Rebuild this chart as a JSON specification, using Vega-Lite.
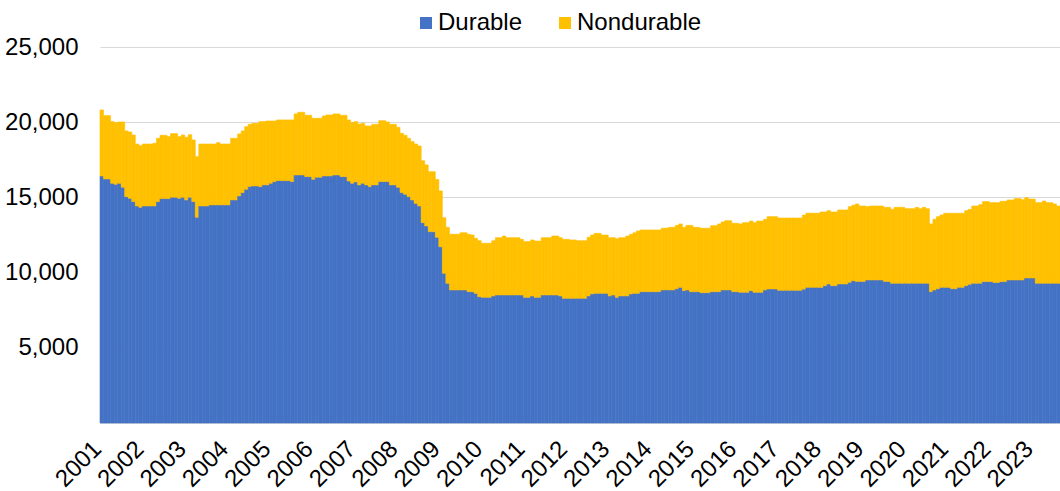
{
"$schema": "https://vega.github.io/schema/vega-lite/v6.json",
"width": 960, "height": 376,
"autosize": "none",
"padding": {"left": 100, "top": 47, "right": 0, "bottom": 68},
"background": "white",
"data": {"values": [
{"m":"2001-01","Durable":16425,"Nondurable":4390},
{"m":"2001-02","Durable":16225,"Nondurable":4215},
{"m":"2001-03","Durable":16225,"Nondurable":4215},
{"m":"2001-04","Durable":15940,"Nondurable":4100},
{"m":"2001-05","Durable":15870,"Nondurable":4100},
{"m":"2001-06","Durable":15940,"Nondurable":4075},
{"m":"2001-07","Durable":15675,"Nondurable":4340},
{"m":"2001-08","Durable":15050,"Nondurable":4370},
{"m":"2001-09","Durable":14940,"Nondurable":4410},
{"m":"2001-10","Durable":14720,"Nondurable":4430},
{"m":"2001-11","Durable":14430,"Nondurable":4120},
{"m":"2001-12","Durable":14340,"Nondurable":4100},
{"m":"2002-01","Durable":14430,"Nondurable":4120},
{"m":"2002-02","Durable":14430,"Nondurable":4120},
{"m":"2002-03","Durable":14430,"Nondurable":4120},
{"m":"2002-04","Durable":14430,"Nondurable":4170},
{"m":"2002-05","Durable":14720,"Nondurable":4210},
{"m":"2002-06","Durable":14920,"Nondurable":4210},
{"m":"2002-07","Durable":14920,"Nondurable":4210},
{"m":"2002-08","Durable":14920,"Nondurable":4120},
{"m":"2002-09","Durable":15010,"Nondurable":4230},
{"m":"2002-10","Durable":15010,"Nondurable":4230},
{"m":"2002-11","Durable":14940,"Nondurable":4100},
{"m":"2002-12","Durable":15010,"Nondurable":4140},
{"m":"2003-01","Durable":14830,"Nondurable":4170},
{"m":"2003-02","Durable":15010,"Nondurable":4160},
{"m":"2003-03","Durable":14720,"Nondurable":4100},
{"m":"2003-04","Durable":13680,"Nondurable":4030},
{"m":"2003-05","Durable":14430,"Nondurable":4120},
{"m":"2003-06","Durable":14430,"Nondurable":4120},
{"m":"2003-07","Durable":14430,"Nondurable":4120},
{"m":"2003-08","Durable":14500,"Nondurable":4050},
{"m":"2003-09","Durable":14500,"Nondurable":4050},
{"m":"2003-10","Durable":14500,"Nondurable":4140},
{"m":"2003-11","Durable":14500,"Nondurable":4050},
{"m":"2003-12","Durable":14500,"Nondurable":4050},
{"m":"2004-01","Durable":14500,"Nondurable":4050},
{"m":"2004-02","Durable":14830,"Nondurable":4100},
{"m":"2004-03","Durable":14830,"Nondurable":4100},
{"m":"2004-04","Durable":15100,"Nondurable":4120},
{"m":"2004-05","Durable":15320,"Nondurable":4100},
{"m":"2004-06","Durable":15540,"Nondurable":4160},
{"m":"2004-07","Durable":15720,"Nondurable":4140},
{"m":"2004-08","Durable":15760,"Nondurable":4170},
{"m":"2004-09","Durable":15760,"Nondurable":4170},
{"m":"2004-10","Durable":15715,"Nondurable":4325},
{"m":"2004-11","Durable":15830,"Nondurable":4210},
{"m":"2004-12","Durable":15830,"Nondurable":4250},
{"m":"2005-01","Durable":15940,"Nondurable":4140},
{"m":"2005-02","Durable":16050,"Nondurable":4030},
{"m":"2005-03","Durable":16115,"Nondurable":4035},
{"m":"2005-04","Durable":16115,"Nondurable":4035},
{"m":"2005-05","Durable":16115,"Nondurable":4035},
{"m":"2005-06","Durable":16115,"Nondurable":4035},
{"m":"2005-07","Durable":16050,"Nondurable":4100},
{"m":"2005-08","Durable":16490,"Nondurable":4060},
{"m":"2005-09","Durable":16490,"Nondurable":4170},
{"m":"2005-10","Durable":16490,"Nondurable":4170},
{"m":"2005-11","Durable":16380,"Nondurable":4080},
{"m":"2005-12","Durable":16380,"Nondurable":4080},
{"m":"2006-01","Durable":16200,"Nondurable":4060},
{"m":"2006-02","Durable":16340,"Nondurable":3920},
{"m":"2006-03","Durable":16340,"Nondurable":3920},
{"m":"2006-04","Durable":16425,"Nondurable":3990},
{"m":"2006-05","Durable":16425,"Nondurable":4055},
{"m":"2006-06","Durable":16425,"Nondurable":4055},
{"m":"2006-07","Durable":16490,"Nondurable":4060},
{"m":"2006-08","Durable":16490,"Nondurable":4060},
{"m":"2006-09","Durable":16380,"Nondurable":4080},
{"m":"2006-10","Durable":16380,"Nondurable":4080},
{"m":"2006-11","Durable":16090,"Nondurable":4060},
{"m":"2006-12","Durable":15940,"Nondurable":4030},
{"m":"2007-01","Durable":16030,"Nondurable":4010},
{"m":"2007-02","Durable":15830,"Nondurable":4050},
{"m":"2007-03","Durable":15940,"Nondurable":3990},
{"m":"2007-04","Durable":15830,"Nondurable":3920},
{"m":"2007-05","Durable":15715,"Nondurable":4035},
{"m":"2007-06","Durable":15830,"Nondurable":4030},
{"m":"2007-07","Durable":15830,"Nondurable":4030},
{"m":"2007-08","Durable":16050,"Nondurable":4050},
{"m":"2007-09","Durable":16050,"Nondurable":4050},
{"m":"2007-10","Durable":16050,"Nondurable":3965},
{"m":"2007-11","Durable":15830,"Nondurable":4030},
{"m":"2007-12","Durable":15830,"Nondurable":4030},
{"m":"2008-01","Durable":15675,"Nondurable":3985},
{"m":"2008-02","Durable":15320,"Nondurable":3940},
{"m":"2008-03","Durable":15210,"Nondurable":3920},
{"m":"2008-04","Durable":15050,"Nondurable":3880},
{"m":"2008-05","Durable":14830,"Nondurable":3880},
{"m":"2008-06","Durable":14600,"Nondurable":3950},
{"m":"2008-07","Durable":14430,"Nondurable":3990},
{"m":"2008-08","Durable":13320,"Nondurable":4120},
{"m":"2008-09","Durable":13100,"Nondurable":4060},
{"m":"2008-10","Durable":12720,"Nondurable":3990},
{"m":"2008-11","Durable":12720,"Nondurable":3990},
{"m":"2008-12","Durable":12350,"Nondurable":3850},
{"m":"2009-01","Durable":11720,"Nondurable":3710},
{"m":"2009-02","Durable":9955,"Nondurable":3695},
{"m":"2009-03","Durable":9290,"Nondurable":3720},
{"m":"2009-04","Durable":8845,"Nondurable":3705},
{"m":"2009-05","Durable":8845,"Nondurable":3705},
{"m":"2009-06","Durable":8845,"Nondurable":3705},
{"m":"2009-07","Durable":8845,"Nondurable":3805},
{"m":"2009-08","Durable":8845,"Nondurable":3805},
{"m":"2009-09","Durable":8730,"Nondurable":3820},
{"m":"2009-10","Durable":8730,"Nondurable":3770},
{"m":"2009-11","Durable":8620,"Nondurable":3660},
{"m":"2009-12","Durable":8400,"Nondurable":3720},
{"m":"2010-01","Durable":8355,"Nondurable":3595},
{"m":"2010-02","Durable":8355,"Nondurable":3595},
{"m":"2010-03","Durable":8355,"Nondurable":3595},
{"m":"2010-04","Durable":8445,"Nondurable":3675},
{"m":"2010-05","Durable":8510,"Nondurable":3810},
{"m":"2010-06","Durable":8510,"Nondurable":3810},
{"m":"2010-07","Durable":8510,"Nondurable":3925},
{"m":"2010-08","Durable":8510,"Nondurable":3810},
{"m":"2010-09","Durable":8510,"Nondurable":3810},
{"m":"2010-10","Durable":8510,"Nondurable":3810},
{"m":"2010-11","Durable":8510,"Nondurable":3810},
{"m":"2010-12","Durable":8510,"Nondurable":3700},
{"m":"2011-01","Durable":8355,"Nondurable":3705},
{"m":"2011-02","Durable":8355,"Nondurable":3705},
{"m":"2011-03","Durable":8445,"Nondurable":3725},
{"m":"2011-04","Durable":8355,"Nondurable":3745},
{"m":"2011-05","Durable":8355,"Nondurable":3745},
{"m":"2011-06","Durable":8510,"Nondurable":3810},
{"m":"2011-07","Durable":8510,"Nondurable":3810},
{"m":"2011-08","Durable":8510,"Nondurable":3810},
{"m":"2011-09","Durable":8510,"Nondurable":3925},
{"m":"2011-10","Durable":8510,"Nondurable":3925},
{"m":"2011-11","Durable":8445,"Nondurable":3875},
{"m":"2011-12","Durable":8290,"Nondurable":3920},
{"m":"2012-01","Durable":8290,"Nondurable":3920},
{"m":"2012-02","Durable":8290,"Nondurable":3880},
{"m":"2012-03","Durable":8290,"Nondurable":3880},
{"m":"2012-04","Durable":8290,"Nondurable":3830},
{"m":"2012-05","Durable":8290,"Nondurable":3830},
{"m":"2012-06","Durable":8290,"Nondurable":3830},
{"m":"2012-07","Durable":8445,"Nondurable":3905},
{"m":"2012-08","Durable":8580,"Nondurable":3920},
{"m":"2012-09","Durable":8620,"Nondurable":3990},
{"m":"2012-10","Durable":8620,"Nondurable":3990},
{"m":"2012-11","Durable":8620,"Nondurable":3880},
{"m":"2012-12","Durable":8620,"Nondurable":3880},
{"m":"2013-01","Durable":8445,"Nondurable":3875},
{"m":"2013-02","Durable":8510,"Nondurable":3810},
{"m":"2013-03","Durable":8355,"Nondurable":3895},
{"m":"2013-04","Durable":8445,"Nondurable":3875},
{"m":"2013-05","Durable":8445,"Nondurable":3875},
{"m":"2013-06","Durable":8445,"Nondurable":3990},
{"m":"2013-07","Durable":8580,"Nondurable":3970},
{"m":"2013-08","Durable":8620,"Nondurable":4030},
{"m":"2013-09","Durable":8620,"Nondurable":4150},
{"m":"2013-10","Durable":8730,"Nondurable":4105},
{"m":"2013-11","Durable":8730,"Nondurable":4105},
{"m":"2013-12","Durable":8730,"Nondurable":4105},
{"m":"2014-01","Durable":8730,"Nondurable":4105},
{"m":"2014-02","Durable":8730,"Nondurable":4105},
{"m":"2014-03","Durable":8730,"Nondurable":4105},
{"m":"2014-04","Durable":8845,"Nondurable":4105},
{"m":"2014-05","Durable":8845,"Nondurable":4105},
{"m":"2014-06","Durable":8845,"Nondurable":4165},
{"m":"2014-07","Durable":8845,"Nondurable":4165},
{"m":"2014-08","Durable":8930,"Nondurable":4210},
{"m":"2014-09","Durable":9020,"Nondurable":4215},
{"m":"2014-10","Durable":8800,"Nondurable":4210},
{"m":"2014-11","Durable":8845,"Nondurable":4295},
{"m":"2014-12","Durable":8730,"Nondurable":4410},
{"m":"2015-01","Durable":8730,"Nondurable":4280},
{"m":"2015-02","Durable":8730,"Nondurable":4280},
{"m":"2015-03","Durable":8665,"Nondurable":4285},
{"m":"2015-04","Durable":8665,"Nondurable":4285},
{"m":"2015-05","Durable":8665,"Nondurable":4285},
{"m":"2015-06","Durable":8730,"Nondurable":4390},
{"m":"2015-07","Durable":8730,"Nondurable":4390},
{"m":"2015-08","Durable":8730,"Nondurable":4505},
{"m":"2015-09","Durable":8845,"Nondurable":4525},
{"m":"2015-10","Durable":8845,"Nondurable":4605},
{"m":"2015-11","Durable":8845,"Nondurable":4605},
{"m":"2015-12","Durable":8730,"Nondurable":4550},
{"m":"2016-01","Durable":8730,"Nondurable":4550},
{"m":"2016-02","Durable":8690,"Nondurable":4545},
{"m":"2016-03","Durable":8690,"Nondurable":4630},
{"m":"2016-04","Durable":8690,"Nondurable":4630},
{"m":"2016-05","Durable":8800,"Nondurable":4630},
{"m":"2016-06","Durable":8690,"Nondurable":4630},
{"m":"2016-07","Durable":8690,"Nondurable":4740},
{"m":"2016-08","Durable":8690,"Nondurable":4740},
{"m":"2016-09","Durable":8845,"Nondurable":4700},
{"m":"2016-10","Durable":8910,"Nondurable":4810},
{"m":"2016-11","Durable":8910,"Nondurable":4810},
{"m":"2016-12","Durable":8910,"Nondurable":4810},
{"m":"2017-01","Durable":8820,"Nondurable":4810},
{"m":"2017-02","Durable":8820,"Nondurable":4810},
{"m":"2017-03","Durable":8820,"Nondurable":4810},
{"m":"2017-04","Durable":8820,"Nondurable":4810},
{"m":"2017-05","Durable":8820,"Nondurable":4810},
{"m":"2017-06","Durable":8820,"Nondurable":4810},
{"m":"2017-07","Durable":8820,"Nondurable":4810},
{"m":"2017-08","Durable":8900,"Nondurable":4930},
{"m":"2017-09","Durable":9020,"Nondurable":4930},
{"m":"2017-10","Durable":9020,"Nondurable":4930},
{"m":"2017-11","Durable":9020,"Nondurable":4930},
{"m":"2017-12","Durable":9020,"Nondurable":4930},
{"m":"2018-01","Durable":9020,"Nondurable":5010},
{"m":"2018-02","Durable":9130,"Nondurable":4900},
{"m":"2018-03","Durable":9245,"Nondurable":4875},
{"m":"2018-04","Durable":9130,"Nondurable":4900},
{"m":"2018-05","Durable":9130,"Nondurable":4900},
{"m":"2018-06","Durable":9245,"Nondurable":4920},
{"m":"2018-07","Durable":9245,"Nondurable":4920},
{"m":"2018-08","Durable":9245,"Nondurable":4920},
{"m":"2018-09","Durable":9355,"Nondurable":5030},
{"m":"2018-10","Durable":9465,"Nondurable":5010},
{"m":"2018-11","Durable":9410,"Nondurable":5155},
{"m":"2018-12","Durable":9410,"Nondurable":5020},
{"m":"2019-01","Durable":9410,"Nondurable":5020},
{"m":"2019-02","Durable":9510,"Nondurable":4875},
{"m":"2019-03","Durable":9510,"Nondurable":4920},
{"m":"2019-04","Durable":9510,"Nondurable":4920},
{"m":"2019-05","Durable":9510,"Nondurable":4920},
{"m":"2019-06","Durable":9510,"Nondurable":4920},
{"m":"2019-07","Durable":9410,"Nondurable":4930},
{"m":"2019-08","Durable":9410,"Nondurable":4930},
{"m":"2019-09","Durable":9290,"Nondurable":4920},
{"m":"2019-10","Durable":9290,"Nondurable":5050},
{"m":"2019-11","Durable":9290,"Nondurable":5050},
{"m":"2019-12","Durable":9290,"Nondurable":5050},
{"m":"2020-01","Durable":9290,"Nondurable":4960},
{"m":"2020-02","Durable":9290,"Nondurable":4960},
{"m":"2020-03","Durable":9290,"Nondurable":4960},
{"m":"2020-04","Durable":9290,"Nondurable":5050},
{"m":"2020-05","Durable":9290,"Nondurable":4960},
{"m":"2020-06","Durable":9290,"Nondurable":5050},
{"m":"2020-07","Durable":9290,"Nondurable":4960},
{"m":"2020-08","Durable":8730,"Nondurable":4505},
{"m":"2020-09","Durable":8845,"Nondurable":4700},
{"m":"2020-10","Durable":8930,"Nondurable":4790},
{"m":"2020-11","Durable":9020,"Nondurable":4810},
{"m":"2020-12","Durable":9020,"Nondurable":4925},
{"m":"2021-01","Durable":9020,"Nondurable":4925},
{"m":"2021-02","Durable":8930,"Nondurable":5015},
{"m":"2021-03","Durable":8930,"Nondurable":5015},
{"m":"2021-04","Durable":9020,"Nondurable":4925},
{"m":"2021-05","Durable":9020,"Nondurable":4925},
{"m":"2021-06","Durable":9130,"Nondurable":4990},
{"m":"2021-07","Durable":9220,"Nondurable":4990},
{"m":"2021-08","Durable":9290,"Nondurable":5140},
{"m":"2021-09","Durable":9290,"Nondurable":5140},
{"m":"2021-10","Durable":9290,"Nondurable":5230},
{"m":"2021-11","Durable":9400,"Nondurable":5320},
{"m":"2021-12","Durable":9400,"Nondurable":5320},
{"m":"2022-01","Durable":9400,"Nondurable":5250},
{"m":"2022-02","Durable":9340,"Nondurable":5310},
{"m":"2022-03","Durable":9340,"Nondurable":5310},
{"m":"2022-04","Durable":9400,"Nondurable":5340},
{"m":"2022-05","Durable":9400,"Nondurable":5340},
{"m":"2022-06","Durable":9510,"Nondurable":5320},
{"m":"2022-07","Durable":9510,"Nondurable":5320},
{"m":"2022-08","Durable":9510,"Nondurable":5410},
{"m":"2022-09","Durable":9510,"Nondurable":5410},
{"m":"2022-10","Durable":9510,"Nondurable":5340},
{"m":"2022-11","Durable":9640,"Nondurable":5345},
{"m":"2022-12","Durable":9640,"Nondurable":5250},
{"m":"2023-01","Durable":9640,"Nondurable":5250},
{"m":"2023-02","Durable":9290,"Nondurable":5360},
{"m":"2023-03","Durable":9290,"Nondurable":5360},
{"m":"2023-04","Durable":9290,"Nondurable":5470},
{"m":"2023-05","Durable":9290,"Nondurable":5360},
{"m":"2023-06","Durable":9290,"Nondurable":5360},
{"m":"2023-07","Durable":9290,"Nondurable":5275},
{"m":"2023-08","Durable":9290,"Nondurable":5140}
]},
"transform": [{"fold": ["Durable", "Nondurable"], "as": ["type", "v"]}],
"mark": {"type": "bar", "strokeWidth": 0.6},
"encoding": {
  "x": {"field": "m", "type": "ordinal",
    "scale": {"paddingInner": 0, "paddingOuter": 0},
    "axis": {"values": ["2001-01","2002-01","2003-01","2004-01","2005-01","2006-01","2007-01","2008-01","2009-01","2010-01","2011-01","2012-01","2013-01","2014-01","2015-01","2016-01","2017-01","2018-01","2019-01","2020-01","2021-01","2022-01","2023-01"],
      "labelExpr": "substring(datum.value, 0, 4)",
      "labelAngle": -45, "labelAlign": "right", "labelBaseline": "middle",
      "ticks": false, "grid": false, "domainColor": "#D9D9D9", "domainWidth": 1,
      "labelPadding": 22, "labelOffset": -4, "title": null}},
  "y": {"field": "v", "type": "quantitative", "stack": "zero",
    "scale": {"domain": [0, 25000], "nice": false},
    "axis": {"values": [5000, 10000, 15000, 20000, 25000], "format": ",.0f", "title": null,
      "domain": false, "ticks": false, "labelPadding": 22, "grid": true, "gridColor": "#D9D9D9", "gridWidth": 1}},
  "color": {"field": "type", "type": "nominal",
    "scale": {"domain": ["Durable", "Nondurable"], "range": ["#4472C4", "#FFC000"]},
    "legend": {"orient": "none", "legendX": 314, "legendY": -36, "title": null, "direction": "horizontal", "symbolType": "square",
      "symbolSize": 144, "symbolStrokeWidth": 0, "labelFontSize": 24, "labelOffset": 0, "columnPadding": 30, "padding": 0}},
  "stroke": {"field": "type", "type": "nominal",
    "scale": {"domain": ["Durable", "Nondurable"], "range": ["#4472C4", "#FFC000"]}, "legend": null},
  "order": {"field": "type", "sort": "ascending"}
},
"config": {
  "view": {"stroke": null},
  "font": "Liberation Sans",
  "axis": {"labelFontSize": 24, "labelColor": "#000000"},
  "legend": {"labelColor": "#000000"}
}
}
